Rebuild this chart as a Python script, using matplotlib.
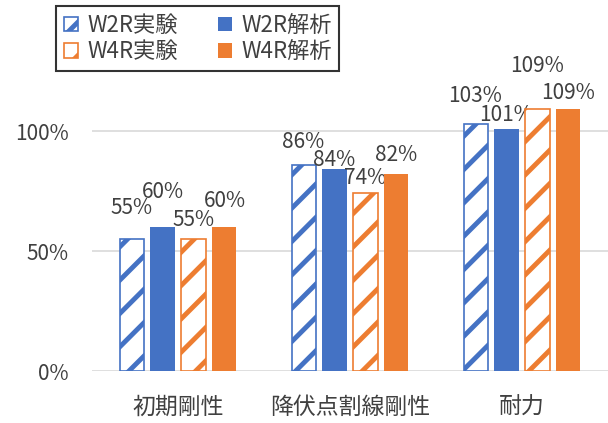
import matplotlib
matplotlib.use("Agg")
import matplotlib.pyplot as plt
import numpy as np

plt.rcParams["font.family"] = ["Noto Sans CJK JP", "DejaVu Sans"]
plt.rcParams["hatch.linewidth"] = 3.5

categories = ["初期剛性", "降伏点割線剛性", "耐力"]
series_names = ["W2R実験", "W2R解析", "W4R実験", "W4R解析"]
w2r_exp = [0.55, 0.86, 1.03]
w2r_ana = [0.60, 0.84, 1.01]
w4r_exp = [0.55, 0.74, 1.09]
w4r_ana = [0.60, 0.82, 1.09]
yticks = [0.0, 0.5, 1.0]
ytick_labels = ["0%", "50%", "100%"]

# label lift above bar top (points), per series per category, to mimic Excel placement
label_lift = [
    [22, 16, 20],
    [25, 7, 10],
    [14, 11, 31],
    [19, 14, 12],
]

blue = "#4472C4"
orange = "#ED7D31"
text_color = "#404040"
fs = 15

fig = plt.figure(figsize=(6.08, 4.23), dpi=100)
ax = fig.add_axes([92 / 608, 52 / 423, 516 / 608, 288 / 423])

x = np.arange(len(categories))
step = 0.18
width = 0.14
series = [w2r_exp, w2r_ana, w4r_exp, w4r_ana]
colors = [blue, blue, orange, orange]
hatched = [True, False, True, False]

handles = []
for i, (vals, col, hat) in enumerate(zip(series, colors, hatched)):
    pos = x + (i - 1.5) * step
    if hat:
        bars = ax.bar(pos, vals, width, facecolor="white", edgecolor=col,
                      hatch="/", linewidth=1.2, label=series_names[i], zorder=3)
    else:
        bars = ax.bar(pos, vals, width, color=col, label=series_names[i], zorder=3)
    handles.append(bars)
    for j, (p, v) in enumerate(zip(pos, vals)):
        ax.annotate(f"{v * 100:.0f}%", (p, v), xytext=(0, label_lift[i][j]),
                    textcoords="offset points", ha="center", va="center",
                    fontsize=fs, color=text_color, annotation_clip=False)

ax.set_xlim(-0.5, 2.5)
ax.set_ylim(0, 1.2)
ax.set_yticks(yticks)
ax.set_yticklabels(ytick_labels)
ax.set_xticks(x)
ax.set_xticklabels(categories, fontsize=16.5)
ax.grid(axis="y", color="#D9D9D9", linewidth=1.2, zorder=0)
for s in ["top", "right", "left", "bottom"]:
    ax.spines[s].set_visible(False)
ax.tick_params(axis="y", labelsize=fs)
ax.tick_params(axis="both", length=0, colors=text_color)
ax.tick_params(axis="x", pad=18)
ax.tick_params(axis="y", pad=17)

# column-wise fill: first column experiments, second column analyses
order = [0, 2, 1, 3]
leg = fig.legend(handles=[handles[k] for k in order],
                 labels=[series_names[k] for k in order], ncol=2, loc="upper left",
                 bbox_to_anchor=(56 / 608, 1 - 6 / 423), fontsize=16,
                 frameon=True, fancybox=False, edgecolor="black",
                 handlelength=0.65, handleheight=0.65, handletextpad=0.4,
                 columnspacing=1.8, borderpad=0.35, labelspacing=0.15,
                 borderaxespad=0)
leg.get_frame().set_linewidth(1.5)
for t in leg.get_texts():
    t.set_color(text_color)

fig.savefig("out.png", dpi=100)
